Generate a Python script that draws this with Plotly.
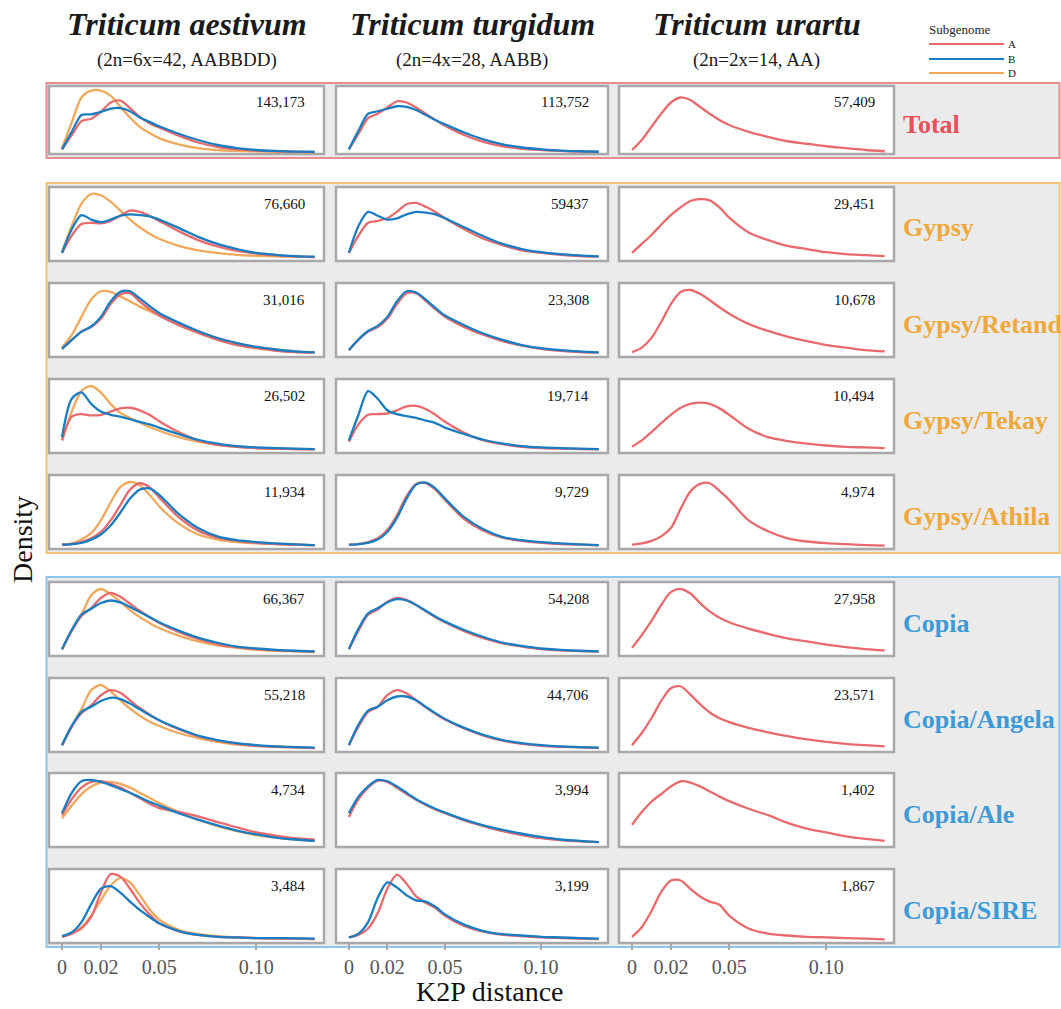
import plotly.graph_objects as go

# ---------------- data ----------------
K2P = [0, 0.005, 0.01, 0.015, 0.02, 0.025, 0.03, 0.035, 0.04, 0.045, 0.05,
       0.06, 0.07, 0.08, 0.09, 0.10, 0.11, 0.12, 0.13]

SPECIES = ["Triticum aestivum", "Triticum turgidum", "Triticum urartu"]
PLOIDY = ["(2n=6x=42, AABBDD)", "(2n=4x=28, AABB)", "(2n=2x=14, AA)"]
SUBGENOMES = {"aestivum": ["D", "A", "B"], "turgidum": ["A", "B"], "urartu": ["A"]}
FAMILIES = ["Total", "Gypsy", "Gypsy/Retand", "Gypsy/Tekay", "Gypsy/Athila",
            "Copia", "Copia/Angela", "Copia/Ale", "Copia/SIRE"]
FAMILY_GROUP = ["Total", "Gypsy", "Gypsy", "Gypsy", "Gypsy",
                "Copia", "Copia", "Copia", "Copia"]
COUNTS_AES = ["143,173", "76,660", "31,016", "26,502", "11,934", "66,367", "55,218", "4,734", "3,484"]
COUNTS_TUR = ["113,752", "59437", "23,308", "19,714", "9,729", "54,208", "44,706", "3,994", "3,199"]
COUNTS_URA = ["57,409", "29,451", "10,678", "10,494", "4,974", "27,958", "23,571", "1,402", "1,867"]
X_TICKS = [0, 0.02, 0.05, 0.10]
X_TICKTEXT = ["0", "0.02", "0.05", "0.10"]

# relative density (scaled per panel)
aes_total_A = [0.05, 0.28, 0.50, 0.54, 0.65, 0.80, 0.83, 0.71, 0.57, 0.47, 0.40, 0.27, 0.16, 0.09, 0.05, 0.03, 0.02, 0.012, 0.008]
aes_total_B = [0.05, 0.33, 0.60, 0.61, 0.65, 0.70, 0.71, 0.66, 0.56, 0.49, 0.42, 0.30, 0.20, 0.12, 0.07, 0.04, 0.025, 0.015, 0.01]
aes_total_D = [0.07, 0.48, 0.88, 0.99, 0.99, 0.91, 0.73, 0.56, 0.41, 0.31, 0.23, 0.13, 0.07, 0.04, 0.026, 0.018, 0.012, 0.007, 0.004]
tur_total_A = [0.05, 0.30, 0.55, 0.62, 0.72, 0.82, 0.80, 0.72, 0.62, 0.52, 0.43, 0.28, 0.17, 0.10, 0.06, 0.04, 0.025, 0.015, 0.01]
tur_total_B = [0.05, 0.35, 0.62, 0.66, 0.70, 0.74, 0.73, 0.68, 0.60, 0.52, 0.45, 0.32, 0.21, 0.13, 0.08, 0.05, 0.03, 0.02, 0.012]
ura_total_A = [0.04, 0.20, 0.41, 0.62, 0.80, 0.88, 0.84, 0.73, 0.62, 0.52, 0.44, 0.33, 0.25, 0.18, 0.14, 0.10, 0.07, 0.04, 0.02]

aes_gypsy_A = [0.08, 0.35, 0.53, 0.55, 0.54, 0.58, 0.66, 0.74, 0.72, 0.66, 0.58, 0.42, 0.28, 0.18, 0.11, 0.07, 0.04, 0.025, 0.015]
aes_gypsy_B = [0.08, 0.45, 0.67, 0.60, 0.56, 0.60, 0.66, 0.68, 0.67, 0.65, 0.60, 0.47, 0.33, 0.22, 0.14, 0.08, 0.05, 0.03, 0.02]
aes_gypsy_D = [0.10, 0.50, 0.85, 1.00, 0.98, 0.88, 0.74, 0.60, 0.48, 0.38, 0.30, 0.19, 0.12, 0.08, 0.05, 0.035, 0.025, 0.018, 0.012]
tur_gypsy_A = [0.08, 0.35, 0.55, 0.58, 0.62, 0.72, 0.84, 0.86, 0.80, 0.72, 0.62, 0.45, 0.30, 0.20, 0.12, 0.08, 0.05, 0.03, 0.02]
tur_gypsy_B = [0.08, 0.50, 0.72, 0.66, 0.60, 0.62, 0.68, 0.72, 0.71, 0.68, 0.62, 0.48, 0.34, 0.22, 0.14, 0.09, 0.06, 0.04, 0.025]
ura_gypsy_A = [0.08, 0.22, 0.36, 0.52, 0.67, 0.79, 0.89, 0.92, 0.90, 0.79, 0.63, 0.40, 0.28, 0.19, 0.14, 0.09, 0.06, 0.045, 0.03]

aes_retand_A = [0.08, 0.22, 0.35, 0.42, 0.55, 0.78, 0.93, 0.95, 0.82, 0.70, 0.60, 0.45, 0.33, 0.22, 0.14, 0.09, 0.05, 0.03, 0.02]
aes_retand_B = [0.08, 0.22, 0.35, 0.43, 0.58, 0.82, 0.97, 0.98, 0.87, 0.75, 0.64, 0.49, 0.36, 0.25, 0.17, 0.11, 0.07, 0.04, 0.025]
aes_retand_D = [0.10, 0.30, 0.58, 0.85, 0.98, 0.97, 0.90, 0.82, 0.74, 0.67, 0.60, 0.47, 0.35, 0.25, 0.17, 0.11, 0.07, 0.04, 0.025]
tur_retand_A = [0.06, 0.22, 0.35, 0.42, 0.55, 0.78, 0.95, 0.95, 0.83, 0.70, 0.58, 0.42, 0.30, 0.20, 0.13, 0.08, 0.05, 0.03, 0.02]
tur_retand_B = [0.06, 0.23, 0.36, 0.44, 0.58, 0.82, 0.98, 0.96, 0.85, 0.72, 0.60, 0.45, 0.32, 0.22, 0.14, 0.09, 0.06, 0.04, 0.025]
ura_retand_A = [0.03, 0.10, 0.25, 0.50, 0.78, 0.97, 1.00, 0.94, 0.84, 0.73, 0.63, 0.47, 0.36, 0.27, 0.20, 0.14, 0.10, 0.06, 0.04]

aes_tekay_A = [0.15, 0.52, 0.56, 0.54, 0.55, 0.60, 0.65, 0.66, 0.62, 0.55, 0.45, 0.28, 0.15, 0.08, 0.05, 0.03, 0.02, 0.015, 0.01]
aes_tekay_B = [0.20, 0.80, 0.90, 0.72, 0.60, 0.55, 0.52, 0.48, 0.44, 0.40, 0.35, 0.25, 0.16, 0.10, 0.06, 0.04, 0.03, 0.02, 0.012]
aes_tekay_D = [0.15, 0.60, 0.92, 1.00, 0.90, 0.72, 0.58, 0.50, 0.43, 0.36, 0.30, 0.20, 0.13, 0.08, 0.05, 0.03, 0.02, 0.015, 0.01]
tur_tekay_A = [0.13, 0.40, 0.55, 0.56, 0.57, 0.62, 0.68, 0.69, 0.64, 0.55, 0.44, 0.27, 0.15, 0.09, 0.05, 0.03, 0.02, 0.015, 0.01]
tur_tekay_B = [0.15, 0.55, 0.92, 0.80, 0.62, 0.56, 0.53, 0.50, 0.46, 0.42, 0.35, 0.25, 0.16, 0.10, 0.06, 0.04, 0.03, 0.02, 0.012]
ura_tekay_A = [0.05, 0.15, 0.28, 0.42, 0.55, 0.66, 0.72, 0.74, 0.72, 0.65, 0.55, 0.33, 0.20, 0.14, 0.10, 0.07, 0.05, 0.04, 0.03]

aes_athila_A = [0.02, 0.03, 0.06, 0.12, 0.22, 0.40, 0.64, 0.88, 0.98, 0.92, 0.76, 0.45, 0.24, 0.13, 0.08, 0.05, 0.03, 0.02, 0.01]
aes_athila_B = [0.02, 0.03, 0.05, 0.10, 0.18, 0.32, 0.52, 0.74, 0.88, 0.90, 0.80, 0.50, 0.28, 0.15, 0.09, 0.06, 0.04, 0.025, 0.015]
aes_athila_D = [0.02, 0.04, 0.10, 0.20, 0.40, 0.68, 0.92, 1.00, 0.95, 0.80, 0.62, 0.35, 0.18, 0.10, 0.06, 0.04, 0.03, 0.02, 0.01]
tur_athila_A = [0.02, 0.03, 0.06, 0.12, 0.25, 0.48, 0.78, 0.97, 0.98, 0.88, 0.72, 0.42, 0.24, 0.13, 0.08, 0.05, 0.03, 0.02, 0.01]
tur_athila_B = [0.02, 0.03, 0.05, 0.10, 0.22, 0.44, 0.74, 0.96, 0.99, 0.90, 0.74, 0.45, 0.26, 0.14, 0.09, 0.06, 0.04, 0.025, 0.015]
ura_athila_A = [0.02, 0.04, 0.08, 0.15, 0.28, 0.58, 0.85, 0.97, 0.98, 0.86, 0.72, 0.40, 0.23, 0.12, 0.07, 0.045, 0.03, 0.015, 0.005]

aes_copia_A = [0.06, 0.35, 0.58, 0.70, 0.86, 0.94, 0.88, 0.77, 0.66, 0.56, 0.47, 0.33, 0.22, 0.14, 0.09, 0.06, 0.04, 0.03, 0.02]
aes_copia_B = [0.06, 0.36, 0.60, 0.69, 0.78, 0.82, 0.79, 0.72, 0.64, 0.56, 0.48, 0.35, 0.24, 0.16, 0.10, 0.07, 0.05, 0.035, 0.025]
aes_copia_D = [0.06, 0.35, 0.60, 0.90, 1.00, 0.92, 0.80, 0.67, 0.56, 0.47, 0.39, 0.27, 0.18, 0.12, 0.08, 0.05, 0.035, 0.025, 0.015]
tur_copia_A = [0.06, 0.35, 0.60, 0.68, 0.80, 0.86, 0.83, 0.75, 0.65, 0.56, 0.48, 0.34, 0.23, 0.15, 0.10, 0.06, 0.04, 0.03, 0.02]
tur_copia_B = [0.06, 0.38, 0.62, 0.70, 0.79, 0.84, 0.82, 0.75, 0.66, 0.57, 0.49, 0.36, 0.25, 0.16, 0.11, 0.07, 0.05, 0.035, 0.025]
ura_copia_A = [0.08, 0.28, 0.50, 0.75, 0.95, 1.00, 0.93, 0.78, 0.65, 0.55, 0.48, 0.38, 0.30, 0.23, 0.18, 0.13, 0.09, 0.06, 0.04]

aes_angela_A = [0.06, 0.35, 0.56, 0.68, 0.84, 0.92, 0.88, 0.76, 0.64, 0.54, 0.45, 0.31, 0.20, 0.13, 0.08, 0.05, 0.035, 0.025, 0.015]
aes_angela_B = [0.06, 0.36, 0.58, 0.66, 0.75, 0.80, 0.78, 0.71, 0.62, 0.53, 0.45, 0.32, 0.21, 0.14, 0.09, 0.06, 0.04, 0.03, 0.02]
aes_angela_D = [0.06, 0.35, 0.62, 0.92, 1.00, 0.90, 0.76, 0.63, 0.52, 0.43, 0.36, 0.25, 0.17, 0.11, 0.07, 0.05, 0.035, 0.025, 0.015]
tur_angela_A = [0.06, 0.35, 0.58, 0.66, 0.84, 0.92, 0.87, 0.76, 0.65, 0.55, 0.46, 0.32, 0.21, 0.13, 0.08, 0.05, 0.035, 0.025, 0.015]
tur_angela_B = [0.06, 0.38, 0.60, 0.66, 0.76, 0.82, 0.82, 0.76, 0.66, 0.56, 0.47, 0.33, 0.22, 0.14, 0.09, 0.06, 0.04, 0.03, 0.02]
ura_angela_A = [0.06, 0.25, 0.48, 0.75, 0.95, 0.98, 0.85, 0.70, 0.57, 0.48, 0.42, 0.33, 0.26, 0.20, 0.15, 0.11, 0.08, 0.06, 0.04]

aes_ale_A = [0.45, 0.70, 0.88, 0.97, 0.98, 0.94, 0.88, 0.80, 0.72, 0.63, 0.56, 0.50, 0.43, 0.34, 0.26, 0.18, 0.13, 0.09, 0.07]
aes_ale_B = [0.48, 0.80, 0.98, 1.00, 0.97, 0.92, 0.86, 0.80, 0.73, 0.66, 0.60, 0.48, 0.38, 0.29, 0.21, 0.15, 0.10, 0.07, 0.05]
aes_ale_D = [0.40, 0.60, 0.78, 0.90, 0.96, 0.97, 0.94, 0.88, 0.80, 0.72, 0.64, 0.50, 0.38, 0.28, 0.20, 0.14, 0.10, 0.07, 0.05]
tur_ale_A = [0.42, 0.70, 0.88, 0.99, 0.97, 0.88, 0.78, 0.69, 0.61, 0.54, 0.48, 0.37, 0.28, 0.20, 0.14, 0.09, 0.06, 0.04, 0.03]
tur_ale_B = [0.48, 0.74, 0.90, 1.00, 0.98, 0.90, 0.80, 0.70, 0.62, 0.55, 0.49, 0.38, 0.29, 0.22, 0.16, 0.11, 0.07, 0.05, 0.03]
ura_ale_A = [0.30, 0.50, 0.66, 0.78, 0.90, 0.98, 0.96, 0.90, 0.82, 0.74, 0.67, 0.55, 0.45, 0.33, 0.24, 0.18, 0.12, 0.08, 0.05]

aes_sire_A = [0.05, 0.10, 0.18, 0.36, 0.74, 1.03, 0.99, 0.80, 0.58, 0.40, 0.26, 0.14, 0.08, 0.05, 0.04, 0.03, 0.025, 0.02, 0.015]
aes_sire_B = [0.06, 0.12, 0.28, 0.56, 0.80, 0.84, 0.74, 0.60, 0.47, 0.36, 0.26, 0.14, 0.08, 0.05, 0.04, 0.03, 0.03, 0.025, 0.02]
aes_sire_D = [0.05, 0.10, 0.20, 0.38, 0.62, 0.85, 0.97, 0.90, 0.70, 0.48, 0.32, 0.16, 0.09, 0.06, 0.04, 0.03, 0.025, 0.02, 0.015]
tur_sire_A = [0.04, 0.08, 0.18, 0.42, 0.80, 1.02, 0.88, 0.68, 0.58, 0.50, 0.38, 0.22, 0.13, 0.08, 0.06, 0.04, 0.03, 0.02, 0.015]
tur_sire_B = [0.04, 0.10, 0.28, 0.66, 0.90, 0.82, 0.70, 0.62, 0.60, 0.52, 0.40, 0.24, 0.14, 0.09, 0.07, 0.05, 0.04, 0.03, 0.02]
ura_sire_A = [0.05, 0.20, 0.45, 0.75, 0.93, 0.93, 0.80, 0.68, 0.60, 0.55, 0.38, 0.18, 0.10, 0.07, 0.05, 0.04, 0.03, 0.02, 0.01]

# panel lookup built from the named lists
DENSITY = {
    "aestivum": [
        {"A": aes_total_A, "B": aes_total_B, "D": aes_total_D},
        {"A": aes_gypsy_A, "B": aes_gypsy_B, "D": aes_gypsy_D},
        {"A": aes_retand_A, "B": aes_retand_B, "D": aes_retand_D},
        {"A": aes_tekay_A, "B": aes_tekay_B, "D": aes_tekay_D},
        {"A": aes_athila_A, "B": aes_athila_B, "D": aes_athila_D},
        {"A": aes_copia_A, "B": aes_copia_B, "D": aes_copia_D},
        {"A": aes_angela_A, "B": aes_angela_B, "D": aes_angela_D},
        {"A": aes_ale_A, "B": aes_ale_B, "D": aes_ale_D},
        {"A": aes_sire_A, "B": aes_sire_B, "D": aes_sire_D},
    ],
    "turgidum": [
        {"A": tur_total_A, "B": tur_total_B},
        {"A": tur_gypsy_A, "B": tur_gypsy_B},
        {"A": tur_retand_A, "B": tur_retand_B},
        {"A": tur_tekay_A, "B": tur_tekay_B},
        {"A": tur_athila_A, "B": tur_athila_B},
        {"A": tur_copia_A, "B": tur_copia_B},
        {"A": tur_angela_A, "B": tur_angela_B},
        {"A": tur_ale_A, "B": tur_ale_B},
        {"A": tur_sire_A, "B": tur_sire_B},
    ],
    "urartu": [
        {"A": ura_total_A}, {"A": ura_gypsy_A}, {"A": ura_retand_A},
        {"A": ura_tekay_A}, {"A": ura_athila_A}, {"A": ura_copia_A},
        {"A": ura_angela_A}, {"A": ura_ale_A}, {"A": ura_sire_A},
    ],
}
SPECIES_KEYS = ["aestivum", "turgidum", "urartu"]
COUNTS = [COUNTS_AES, COUNTS_TUR, COUNTS_URA]

# ---------------- style ----------------
W, H = 1061, 1009
LINE_COL = {"A": "#E96A6C", "B": "#1B7DC1", "D": "#F0A95C"}
GROUP_LINE = {"Total": "#E88C8F", "Gypsy": "#F3C37A", "Copia": "#8CC6EA"}
GROUP_TEXT = {"Total": "#E8505A", "Gypsy": "#EFA83C", "Copia": "#3D9AD6"}
SERIF = "Liberation Serif, Times New Roman, serif"
PANEL_BORDER = "#A8A8A8"
BG_GRAY = "#EBEBEB"

COL_X = [(49, 324), (336, 608), (619, 894)]
ROW_Y = [(86, 154), (187, 261), (283, 357), (379, 453), (475, 549),
         (582, 656), (678, 752), (773, 847), (869, 943)]
GROUP_BOX = [("Total", 83, 158), ("Gypsy", 183, 553), ("Copia", 577, 947)]


def px_x(v):
    return v / W


def px_y(v):
    return 1 - v / H


fig = go.Figure()
shapes = []
annotations = []

# group backgrounds
for g, y0, y1 in GROUP_BOX:
    shapes.append(dict(type="rect", xref="paper", yref="paper",
                       x0=px_x(46.5), x1=px_x(1059.5), y0=px_y(y1), y1=px_y(y0),
                       fillcolor=BG_GRAY, line=dict(color=GROUP_LINE[g], width=2),
                       layer="below"))

layout_axes = {}
for r, fam in enumerate(FAMILIES):
    ry0, ry1 = ROW_Y[r]
    yr = [-0.024, 1.064] if r == 0 else [-0.047, 1.109]
    for c, sk in enumerate(SPECIES_KEYS):
        idx = r * 3 + c + 1
        cx0, cx1 = COL_X[c]
        xa = "xaxis" if idx == 1 else f"xaxis{idx}"
        ya = "yaxis" if idx == 1 else f"yaxis{idx}"
        xref = "x" if idx == 1 else f"x{idx}"
        yref = "y" if idx == 1 else f"y{idx}"
        bottom = (r == len(FAMILIES) - 1)
        layout_axes[xa] = dict(
            domain=[px_x(cx0), px_x(cx1)], anchor=yref,
            range=[-0.0067, 0.1348], showgrid=False, zeroline=False, showline=False,
            tickvals=X_TICKS if bottom else [], ticktext=X_TICKTEXT if bottom else [],
            ticks="outside" if bottom else "", ticklen=6, tickwidth=2, tickcolor=PANEL_BORDER,
            showticklabels=bottom, tickfont=dict(family=SERIF, size=20, color="#555555"),
            fixedrange=True,
        )
        layout_axes[ya] = dict(
            domain=[px_y(ry1), px_y(ry0)], anchor=xref, range=yr,
            visible=False, fixedrange=True,
        )
        # panel
        shapes.append(dict(type="rect", xref=f"{xref} domain", yref=f"{yref} domain",
                           x0=0, x1=1, y0=0, y1=1, fillcolor="white",
                           line=dict(color=PANEL_BORDER, width=2.5), layer="below"))
        panel = DENSITY[sk][r]
        for sg in SUBGENOMES[sk]:
            fig.add_trace(go.Scatter(
                x=K2P, y=panel[sg], mode="lines", xaxis=xref, yaxis=yref,
                line=dict(color=LINE_COL[sg], width=2.3, shape="spline", smoothing=0.8),
                showlegend=False, hoverinfo="skip"))
        # count label
        annotations.append(dict(xref="paper", yref="paper",
                                x=px_x(cx1 - 17), y=px_y(ry0 + (16 if r == 0 else 17)),
                                text=COUNTS[c][r], showarrow=False, xanchor="right",
                                yanchor="middle", font=dict(family=SERIF, size=15, color="#111111")))
    # row label
    annotations.append(dict(xref="paper", yref="paper", x=px_x(901),
                            y=px_y((ry0 + ry1) / 2 + 4), text=f"<b>{fam}</b>",
                            showarrow=False, xanchor="left", yanchor="middle",
                            font=dict(family=SERIF, size=26, color=GROUP_TEXT[FAMILY_GROUP[r]])))

# column titles
for c in range(3):
    cx = (COL_X[c][0] + COL_X[c][1]) / 2
    annotations.append(dict(xref="paper", yref="paper", x=px_x(cx), y=px_y(24),
                            text=f"<b><i>{SPECIES[c]}</i></b>", showarrow=False,
                            xanchor="center", yanchor="middle",
                            font=dict(family=SERIF, size=32, color="#1A1A1A")))
    annotations.append(dict(xref="paper", yref="paper", x=px_x(cx), y=px_y(60),
                            text=PLOIDY[c], showarrow=False, xanchor="center",
                            yanchor="middle", font=dict(family=SERIF, size=19, color="#1A1A1A")))

# axis titles
annotations.append(dict(xref="paper", yref="paper", x=px_x(22), y=px_y(540),
                        text="Density", textangle=-90, showarrow=False,
                        xanchor="center", yanchor="middle",
                        font=dict(family=SERIF, size=28, color="#111111")))
annotations.append(dict(xref="paper", yref="paper", x=px_x(490), y=px_y(1008),
                        text="K2P distance", showarrow=False, borderpad=0,
                        xanchor="center", yanchor="bottom",
                        font=dict(family=SERIF, size=28, color="#111111")))

# legend
annotations.append(dict(xref="paper", yref="paper", x=px_x(927), y=px_y(29),
                        text="Subgenome", showarrow=False, xanchor="left", yanchor="middle",
                        font=dict(family=SERIF, size=13, color="#222222")))
for i, sg in enumerate(["A", "B", "D"]):
    ly = [44, 59, 73][i]
    shapes.append(dict(type="line", xref="paper", yref="paper",
                       x0=px_x(929), x1=px_x(1004), y0=px_y(ly), y1=px_y(ly),
                       line=dict(color=LINE_COL[sg], width=2)))
    annotations.append(dict(xref="paper", yref="paper", x=px_x(1007), y=px_y(ly),
                            text=sg, showarrow=False, xanchor="left", yanchor="middle",
                            borderpad=0,
                            font=dict(family=SERIF, size=11, color="#222222")))

fig.update_layout(
    width=W, height=H, margin=dict(l=0, r=0, t=0, b=0),
    paper_bgcolor="white", plot_bgcolor="rgba(0,0,0,0)",
    shapes=shapes, annotations=annotations, showlegend=False,
    **layout_axes,
)

fig.write_html("out.html", config={"displayModeBar": False, "staticPlot": True},
               post_script="document.body.style.margin='0px';document.body.style.overflow='hidden';")
